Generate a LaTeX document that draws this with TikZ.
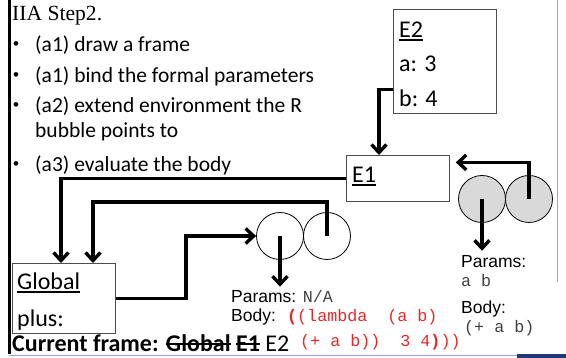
\documentclass[tikz,border=0pt]{standalone}
\usepackage{fontspec}
\setmainfont{Carlito}
\newfontfamily\titlefont{Liberation Serif}
\newfontfamily\arialfont{Liberation Sans}
\newfontfamily\codefont{Liberation Mono}
\usetikzlibrary{arrows.meta}
\definecolor{codered}{RGB}{232,40,40}
\definecolor{codegray}{RGB}{64,64,64}
\definecolor{bubblegray}{RGB}{217,217,217}
\definecolor{slideblue}{RGB}{143,170,220}
\definecolor{slidenavy}{RGB}{31,56,120}
\newcommand{\cdfont}{\codefont\fontsize{16.7}{20}\selectfont}
\newcommand{\ulin}[1]{{\setbox0\hbox{#1}\rlap{\rule[-3pt]{\wd0}{1.5pt}}\box0}}
\newcommand{\strk}[1]{{\setbox0\hbox{#1}\rlap{\rule[0.3em]{\wd0}{1.5pt}}\box0}}
\begin{document}
\begin{tikzpicture}[x=1pt,y=-1pt,
    every node/.style={inner sep=0pt,anchor=base west},
    frame/.style={draw=black!70,line width=0.8pt,anchor=north west},
    ptr/.style={line width=3.4pt,-{Straight Barb[length=8pt,width=15pt]}},
    bubble/.style={draw,circle,line width=0.8pt,minimum size=47pt,anchor=center},
    bul/.style={font=\fontsize{21.5}{24}\selectfont},
    lbl/.style={font=\fontsize{24}{28}\selectfont},
    prm/.style={font=\arialfont\fontsize{17.5}{20}\selectfont},
    code/.style={font=\cdfont}]
    \useasboundingbox (0,0) rectangle (566,358);
    % slide edges
    \draw[line width=3pt] (9,0) -- (9,354);
    \draw[slideblue,line width=1pt] (557,0) -- (557,282);
    \draw[slideblue,line width=1pt] (9,356) -- (517,356);
    \fill[slidenavy] (517,354) rectangle (566,358);
    % text
    \node[font=\titlefont\fontsize{21.6}{24}\selectfont] (title) at (12,21) {IIA Step2.};
    \foreach \nm/\yy/\txt in {ba/52/{(a1) draw a frame},bb/83/{(a1) bind the formal parameters},
        bc/113/{(a2) extend environment the R},bd/172/{(a3) evaluate the body}}
        {\node[font=\arialfont\fontsize{17}{20}\selectfont] (dot\nm) at (13,\yy-2) {•};
         \node[bul] (\nm) at (35,\yy) {\txt};}
    \node[bul] (bc2) at (35,138) {bubble points to};
    % frames
    \node[frame,minimum width=103pt,minimum height=104pt] (e2) at (393,9) {};
    \node[lbl] (e2name) at (399,38) {\ulin{E2}};
    \node[lbl] (e2a) at (399,72) {a: 3};
    \node[lbl] (e2b) at (399,107) {b: 4};
    \node[frame,minimum width=103pt,minimum height=46pt] (e1) at (346,155) {};
    \node[lbl] (e1name) at (352,183) {\ulin{E1}};
    \node[frame,minimum width=103pt,minimum height=70pt] (glob) at (12,263) {};
    \node[lbl] (globname) at (17,290) {\ulin{Global}};
    \node[lbl] (plus) at (17,327) {plus:};
    % closures
    \node[bubble] (clA) at (280,236) {};
    \node[bubble] (clB) at (327,236) {};
    \node[bubble,fill=bubblegray] (gcA) at (482,199) {};
    \node[bubble,fill=bubblegray] (gcB) at (529,199) {};
    \node[prm] (prmL) at (231,303) {Params: {\cdfont\color{codegray}N/A}};
    \node[prm] (bodyL) at (231,322) {Body:};
    \node[code,text=codered] (codeL) at (287,322) {\textbf{(}(lambda\ \ (a b)};
    \node[code,text=codered] (codeL2) at (300,347) {(+ a b))\ \ 3 4\textbf{)}))};
    \node[prm] (prmR) at (461,268) {Params:};
    \node[code,text=codegray] (argR) at (461,287) {a b};
    \node[prm] (bodyR) at (461,314) {Body:};
    \node[code,text=codegray] (codeR) at (464,333) {(+ a b)};
    \node[lbl] (cur) at (12,352) {\textbf{Current frame: \strk{Global} \strk{E1}} E2};
    % pointers
    \draw[ptr] ([yshift=24pt]e2.south west) -| ([xshift=33pt]e1.north west);
    \draw[ptr] (gcB.center) |- ([xshift=6pt,yshift=16pt]e1.east);
    \draw[ptr,shorten >=5pt] (gcA.center) -- (gcA.center |- prmR.north);
    \draw[ptr] (e1.west) -| ([xshift=49pt]glob.north west);
    \draw[ptr] (clB.center) |- ([xshift=81pt,yshift=61pt]glob.north west) -- ([xshift=81pt]glob.north west);
    \draw[ptr] (glob.east) -- ++(70,0) |- (clA.west);
    \draw[ptr,shorten >=4pt] (clA.center) -- (clA.center |- prmL.north);
\end{tikzpicture}
\end{document}
